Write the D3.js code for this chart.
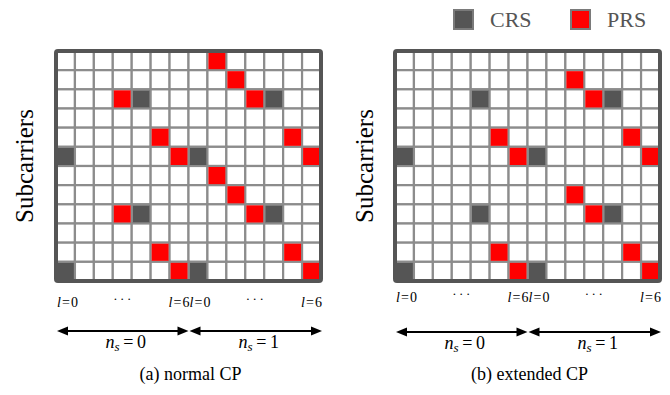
<!DOCTYPE html>
<html>
<head>
<meta charset="utf-8">
<script src="https://cdn.jsdelivr.net/npm/d3@7"></script>
<style>
  body { margin: 0; background: #fff; }
  svg text { font-family: "Liberation Serif", "DejaVu Serif", serif; }
</style>
</head>
<body>
<div id="chart"></div>
<script>
// Grille temps-fréquence : CRS / PRS, CP normal vs étendu
const symbols = [0, 1, 2, 3, 4, 5, 6, 7, 8, 9, 10, 11, 12, 13];
const subcarriers = [0, 1, 2, 3, 4, 5, 6, 7, 8, 9, 10, 11];

// [ligne, colonne] (ligne 0 = en haut)
const normalCRS = [[2, 4], [2, 11], [5, 0], [5, 7], [8, 4], [8, 11], [11, 0], [11, 7]];
const normalPRS = [[0, 8], [1, 9], [2, 3], [2, 10], [4, 5], [4, 12], [5, 6], [5, 13],
                   [6, 8], [7, 9], [8, 3], [8, 10], [10, 5], [10, 12], [11, 6], [11, 13]];
const extendedCRS = [[2, 4], [2, 11], [5, 0], [5, 7], [8, 4], [8, 11], [11, 0], [11, 7]];
const extendedPRS = [[1, 9], [2, 10], [4, 5], [4, 12], [5, 6], [5, 13],
                     [7, 9], [8, 10], [10, 5], [10, 12], [11, 6], [11, 13]];

const symbolTicks = [
  { col: 0, l: '0', anchor: 'start' },
  { col: 3, l: null, anchor: 'middle' },
  { col: 6, l: '6', anchor: 'end' },
  { col: 7, l: '0', anchor: 'start' },
  { col: 10, l: null, anchor: 'middle' },
  { col: 13, l: '6', anchor: 'end' }
];
const slots = [{ from: 0, to: 6, ns: '0' }, { from: 7, to: 13, ns: '1' }];
const legendItems = [{ name: 'CRS', color: '#555555' }, { name: 'PRS', color: '#ff0000' }];

const W = 670, H = 395;
const FONT = '"Liberation Serif", "DejaVu Serif", serif';
const svg = d3.select('#chart').append('svg').attr('width', W).attr('height', H);

const panels = [
  { x0: 54, crs: normalCRS, prs: normalPRS, caption: '(a) normal CP', labelY: 307, arrowY: 331, nsY: 348, ylabX: 33 },
  { x0: 393, crs: extendedCRS, prs: extendedPRS, caption: '(b) extended CP', labelY: 302, arrowY: 332, nsY: 349, ylabX: 373 }
];

const gridW = 269, gridH = 234, gridY = 49, bw = 4;

panels.forEach(p => {
  const g = svg.append('g');
  const x = d3.scaleBand().domain(symbols)
    .range([p.x0 + bw / 2, p.x0 + gridW - bw / 2]);
  const y = d3.scaleBand().domain(subcarriers)
    .range([gridY + bw / 2, gridY + gridH - bw / 2]);

  const kind = {};
  p.crs.forEach(([r, c]) => kind[r + '-' + c] = 'crs');
  p.prs.forEach(([r, c]) => kind[r + '-' + c] = 'prs');

  const cells = [];
  subcarriers.forEach(r => symbols.forEach(c => cells.push({ r, c, k: kind[r + '-' + c] || 'none' })));

  g.selectAll('rect.cell')
    .data(cells)
    .join('rect')
    .attr('class', 'cell')
    .attr('x', d => x(d.c))
    .attr('y', d => y(d.r))
    .attr('width', x.bandwidth())
    .attr('height', y.bandwidth())
    .attr('fill', '#ffffff')
    .attr('stroke', '#8c8c8c')
    .attr('stroke-width', 2.2);

  // cases pleines
  g.selectAll('rect.mark')
    .data(cells.filter(d => d.k !== 'none'))
    .join('rect')
    .attr('class', 'mark')
    .attr('x', d => x(d.c) + 1)
    .attr('y', d => y(d.r) + 1)
    .attr('width', x.bandwidth() - 2)
    .attr('height', y.bandwidth() - 2)
    .attr('fill', d => d.k === 'crs' ? '#555555' : '#ff0000');

  // cadre
  g.append('rect')
    .attr('x', p.x0 + bw / 2).attr('y', gridY + bw / 2)
    .attr('width', gridW - bw).attr('height', gridH - bw)
    .attr('rx', 2)
    .attr('fill', 'none')
    .attr('stroke', '#555555')
    .attr('stroke-width', bw);

  // Subcarriers
  g.append('text')
    .attr('transform', `translate(${p.ylabX},${gridY + gridH / 2}) rotate(-90)`)
    .attr('text-anchor', 'middle')
    .attr('font-family', FONT)
    .style('font-size', '25px')
    .style('fill', '#000')
    .text('Subcarriers');

  // étiquettes des symboles
  symbolTicks.forEach(t => {
    const xp = t.anchor === 'start' ? x(t.col) + 1
      : t.anchor === 'end' ? x(t.col) + x.bandwidth() + 1
      : x(t.col) + x.bandwidth() / 2;
    const txt = g.append('text')
      .attr('x', xp).attr('y', p.labelY)
      .attr('text-anchor', t.anchor)
      .attr('font-family', FONT)
      .style('font-size', '14px')
      .style('fill', '#000');
    if (t.l === null) {
      txt.attr('y', p.labelY - 4).style('font-size', '13px').text('\u00B7\u2009\u00B7\u2009\u00B7');
    } else {
      txt.append('tspan').style('font-style', 'italic').text('l');
      txt.append('tspan').text('\u200A=\u200A' + t.l);
    }
  });

  // flèches des slots
  slots.forEach(s => {
    const x1 = x(s.from) + 1, x2 = x(s.to) + x.bandwidth() + (s.from === 0 ? 0 : 1);
    g.append('line')
      .attr('x1', x1 + 9).attr('x2', x2 - 9)
      .attr('y1', p.arrowY).attr('y2', p.arrowY)
      .attr('stroke', '#000').attr('stroke-width', 2.2);
    g.append('path')
      .attr('d', `M${x1},${p.arrowY}L${x1 + 11},${p.arrowY - 4.5}L${x1 + 11},${p.arrowY + 4.5}Z`)
      .attr('fill', '#000');
    g.append('path')
      .attr('d', `M${x2},${p.arrowY}L${x2 - 11},${p.arrowY - 4.5}L${x2 - 11},${p.arrowY + 4.5}Z`)
      .attr('fill', '#000');

    const lbl = g.append('text')
      .attr('x', (x1 + x2) / 2 + 3).attr('y', p.nsY)
      .attr('text-anchor', 'middle')
      .attr('font-family', FONT)
      .style('font-size', '18px')
      .style('fill', '#000');
    lbl.append('tspan').style('font-style', 'italic').text('n');
    lbl.append('tspan').style('font-style', 'italic').style('font-size', '13px').attr('dy', 3).text('s');
    lbl.append('tspan').attr('dy', -3).text('\u2009=\u2009' + s.ns);
  });

  // légende sous-figure
  g.append('text')
    .attr('x', p.x0 + gridW / 2 + 2).attr('y', 380)
    .attr('text-anchor', 'middle')
    .attr('font-family', FONT)
    .style('font-size', '18px')
    .style('fill', '#000')
    .text(p.caption);
});

// Légende CRS / PRS
const legend = svg.append('g').attr('transform', 'translate(454,10)');
const legX = d3.scalePoint().domain(legendItems.map(d => d.name)).range([0, 117]);
legendItems.forEach(d => {
  legend.append('rect')
    .attr('x', legX(d.name)).attr('y', 0)
    .attr('width', 19).attr('height', 19)
    .attr('fill', d.color)
    .attr('stroke', '#7a7a7a')
    .attr('stroke-width', 2);
  legend.append('text')
    .attr('x', legX(d.name) + 36).attr('y', 17)
    .attr('font-family', FONT)
    .style('font-size', '22px')
    .style('fill', '#555')
    .text(d.name);
});
</script>
</body>
</html>
